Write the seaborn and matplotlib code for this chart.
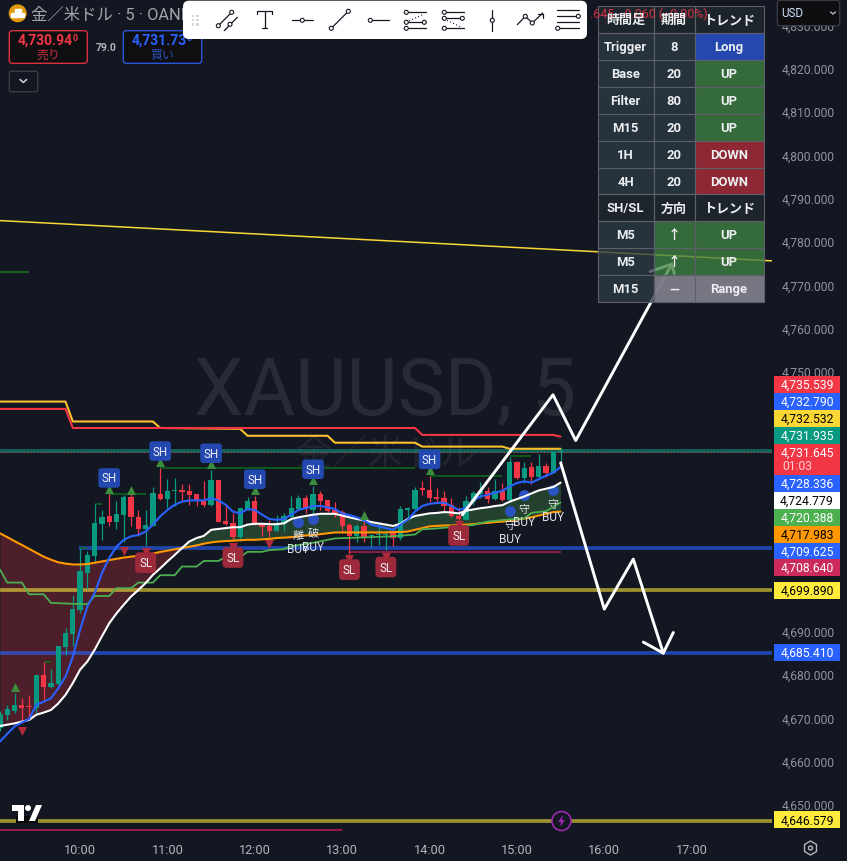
import numpy as np
import pandas as pd
import matplotlib
matplotlib.use("Agg")
import matplotlib.pyplot as plt
import seaborn as sns
from matplotlib.patches import Rectangle, FancyBboxPatch, Circle, Polygon
from matplotlib.transforms import ScaledTranslation

BG = "#131722"
UP_COL = "#089981"
DOWN_COL = "#f23645"

# candles, 5 minute bars from 09:05 to 15:30
opens = [4667.8,4670.8,4671.7,4673.1,4672.6,4672.3,4680.0,4677.2,4677.9,4686.4,4689.5,4695.0,4703.6,4707.5,4714.9,4716.7,
         4715.3,4717.0,4721.0,4716.4,4713.7,4714.4,4721.8,4720.7,4722.5,4722.7,4722.5,4721.8,4720.4,4719.3,4725.0,4715.6,
         4715.1,4711.8,4718.3,4720.2,4715.0,4714.4,4713.3,4714.9,4716.4,4718.3,4720.8,4718.1,4721.8,4720.4,4718.1,4717.7,
         4714.7,4712.1,4714.4,4712.0,4712.3,4712.3,4712.7,4711.5,4718.0,4718.4,4723.0,4722.7,4721.0,4720.8,4719.3,4716.7,
         4715.8,4720.0,4721.7,4722.5,4720.7,4722.5,4720.3,4729.1,4725.4,4728.1,4725.6,4728.3,4726.7,4731.4]
highs = [4671.7,4673.1,4675.8,4674.6,4675.4,4680.0,4682.9,4681.3,4686.7,4690.8,4698.5,4709.3,4708.5,4719.5,4718.1,4721.7,
         4720.2,4721.6,4722.0,4718.1,4718.1,4723.5,4727.7,4725.2,4725.4,4724.1,4724.1,4721.8,4724.7,4727.4,4725.0,4719.3,
         4717.5,4718.6,4721.0,4721.4,4715.0,4715.7,4717.0,4717.4,4721.2,4721.6,4721.6,4723.7,4722.4,4720.4,4720.0,4718.1,
         4715.0,4714.9,4717.4,4712.5,4715.4,4713.1,4713.1,4719.0,4718.7,4723.4,4724.7,4726.0,4723.1,4722.5,4720.8,4718.7,
         4721.2,4722.4,4724.5,4723.5,4725.2,4724.4,4730.4,4729.3,4729.2,4729.2,4731.1,4728.9,4731.6,4732.4]
lows = [4667.1,4669.6,4671.1,4668.8,4669.8,4671.1,4674.2,4676.9,4677.7,4684.6,4686.6,4694.2,4699.8,4706.0,4711.2,4714.3,
        4713.7,4710.8,4714.3,4712.0,4709.8,4714.3,4720.4,4718.5,4719.0,4720.3,4719.3,4719.0,4718.7,4719.0,4715.2,4714.7,
        4711.0,4711.0,4718.1,4714.6,4712.1,4711.8,4713.2,4713.3,4715.8,4718.1,4717.4,4717.0,4718.1,4717.6,4716.4,4712.7,
        4708.0,4710.8,4710.6,4709.5,4710.0,4708.9,4709.7,4711.2,4715.7,4718.1,4721.6,4720.0,4719.7,4717.7,4716.4,4714.3,
        4715.7,4719.3,4720.8,4719.8,4720.4,4720.1,4720.0,4725.2,4724.3,4724.0,4725.4,4725.7,4726.6,4728.9]
closes = [4671.0,4672.2,4673.1,4672.4,4672.5,4680.0,4677.3,4678.1,4686.7,4689.6,4695.2,4704.0,4707.7,4715.1,4716.4,4715.3,
          4717.2,4721.0,4716.4,4713.8,4714.7,4722.0,4720.7,4722.5,4722.7,4722.3,4721.6,4720.1,4719.3,4725.0,4715.3,4714.9,
          4711.8,4718.6,4720.2,4714.7,4714.2,4713.3,4715.0,4716.7,4718.5,4720.8,4718.3,4721.8,4720.2,4717.8,4717.4,4714.4,
          4712.1,4714.4,4711.6,4712.1,4712.6,4712.6,4711.5,4718.4,4718.5,4722.7,4722.8,4720.8,4720.7,4719.0,4716.6,4715.9,
          4720.2,4722.0,4722.5,4720.7,4722.5,4720.3,4729.1,4725.4,4727.8,4725.6,4728.3,4726.7,4731.4,4731.4]

# moving averages, one value per candle
trigger_ma = [4664.6,4666.4,4668.1,4669.0,4669.8,4673.1,4673.8,4674.6,4676.9,4679.6,4684.2,4690.4,4695.8,4698.9,4703.5,4707.0,
              4709.6,4711.2,4712.0,4712.3,4713.1,4714.7,4716.6,4718.1,4719.3,4720.0,4720.3,4720.3,4720.3,4720.8,4720.3,4719.3,
              4717.7,4717.3,4718.3,4718.1,4717.0,4716.0,4715.8,4716.0,4717.0,4718.1,4718.5,4719.0,4719.0,4718.7,4718.3,4717.3,
              4716.9,4716.4,4715.7,4714.7,4714.3,4713.9,4713.5,4714.7,4715.8,4717.7,4719.0,4719.5,4719.7,4719.8,4719.0,4718.1,
              4718.5,4720.3,4721.2,4721.6,4722.1,4722.5,4723.5,4724.3,4724.7,4724.4,4725.2,4726.0,4726.7,4728.0]
base_ma = [4668.2,4668.5,4668.8,4669.2,4669.6,4670.8,4671.3,4671.9,4673.4,4675.4,4678.1,4681.2,4683.1,4685.8,4688.9,4691.9,
           4694.2,4696.2,4698.1,4699.6,4701.2,4703.1,4704.6,4706.2,4707.7,4709.3,4710.8,4711.6,4712.1,4713.5,4713.7,4713.9,
           4714.1,4714.1,4714.7,4714.9,4714.9,4714.8,4714.8,4715.0,4716.0,4716.4,4716.7,4717.0,4717.2,4717.2,4717.2,4716.8,
           4716.4,4716.0,4715.7,4715.3,4715.0,4714.7,4714.4,4714.9,4716.0,4716.7,4717.0,4717.3,4717.4,4717.6,4717.5,4717.3,
           4717.9,4718.2,4718.5,4718.7,4719.0,4719.2,4720.0,4720.6,4721.2,4721.9,4722.6,4723.0,4723.4,4724.4]
filter_ma = [4712.7,4711.8,4710.9,4710.0,4709.1,4708.2,4707.3,4706.6,4706.0,4705.7,4705.5,4705.5,4705.6,4705.9,4706.2,4706.5,
             4706.8,4707.1,4707.3,4707.5,4707.7,4708.0,4708.4,4708.7,4709.0,4709.3,4709.6,4709.9,4710.3,4710.6,4710.8,4710.9,
             4711.0,4711.1,4711.2,4711.2,4711.3,4711.4,4711.6,4711.7,4711.8,4712.0,4712.2,4712.3,4712.5,4712.7,4712.9,4712.9,
             4712.9,4712.9,4712.9,4712.9,4712.9,4712.9,4713.0,4713.0,4713.1,4713.5,4713.9,4714.3,4714.4,4714.5,4714.5,4714.6,
             4714.7,4714.8,4715.0,4715.1,4715.3,4715.4,4715.6,4715.9,4716.1,4716.4,4716.8,4717.2,4717.6,4717.7]

# higher timeframe lines, stepped
m15_x = [0,1,3,4,6,7,10,12,13,15,16,18,19,21,22,24,25,27,28,30,31,33,34,36,37,39,40,43,46,51,54,57,58,60,65,67,70,72,73,75,77]
m15_y = [4704.6,4701.6,4701.6,4698.9,4698.9,4696.9,4696.7,4696.6,4698.5,4698.5,4700.3,4700.3,4701.6,4701.6,4703.3,4703.3,4705.3,
         4705.3,4706.6,4706.6,4707.5,4707.5,4708.7,4708.7,4709.1,4709.3,4710.0,4710.8,4711.8,4712.1,4712.3,4712.7,4713.9,4714.1,
         4714.9,4715.7,4716.2,4716.4,4717.7,4718.1,4720.1]
h4_x = [0,9,10,21,22,33,34,45,46,57,58,69,70,77]
h4_y = [4743.4,4743.4,4738.8,4738.8,4737.3,4737.1,4735.5,4735.5,4733.9,4733.9,4733.0,4733.0,4732.5,4732.5]
h1_x = [0,9,10,57,58,76,77]
h1_y = [4741.7,4741.7,4737.3,4737.3,4735.7,4735.7,4735.3]

# horizontal levels
trend_x = [0,106]
trend_y = [4785.2,4775.9]
level_teal = 4731.935
last_price = 4731.645
level_blue1 = 4709.625
level_blue2 = 4685.41
level_olive1 = 4699.89
level_olive2 = 4646.579
level_crimson = 4708.64
low_line_y = 4644.4
stub_y = 4773.3

# swing lines (from, to, price)
swing_from = [6,11,13,15,22,59,70]
swing_to = [7,12,14,20,57,69,73]
swing_y = [4683.2,4709.5,4719.8,4722.0,4728.1,4726.3,4730.8]

# markers
sh_idx = [15,22,29,35,43,59]
sh_y = [4723.2,4729.4,4728.9,4722.9,4725.2,4727.5]
sl_idx = [20,32,48,53,63]
sl_y = [4708.6,4709.8,4707.0,4707.6,4714.9]
up_idx = [2,18,50]
up_y = [4677.4,4723.0,4717.2]
dn_idx = [3,17,37]
dn_y = [4667.4,4709.0,4710.5]
buy_idx = [41,43,70,72,76]
buy_y = [4715.7,4716.3,4718.1,4721.9,4723.0]
buy_kanji = ["離","破","守","守","守"]

# hand drawn arrows
up_arrow_x = [63.5,75.96,79.08,92.27]
up_arrow_y = [4717.25,4744.97,4734.41,4775.15]
up_head_x = [89.29,92.27,92.72]
up_head_y = [4773.44,4775.15,4772.29]
dn_arrow_x = [77.02,83.01,86.99,91.11]
dn_arrow_y = [4729.26,4695.47,4707.02,4685.31]
dn_head_x = [88.37,91.11,92.49]
dn_head_y = [4687.85,4685.31,4690.07]

hour_labels = ["10:00","11:00","12:00","13:00","14:00","15:00","16:00","17:00"]
hour_idx = [11,23,35,47,59,71,83,95]
# 4700 to 4740 sit behind the tags, so they get no label
price_ticks = [4650,4660,4670,4680,4690,4750,4760,4770,4780,4790,4800,4810,4820,4830]

# right hand tags: text, row y, fill, text colour
tag_text = ["4,735.539","4,732.790","4,732.532","4,731.935","4,731.645","4,728.336","4,724.779","4,720.388",
            "4,717.983","4,709.625","4,708.640","4,699.890","4,685.410","4,646.579"]
tag_row = [385,402,419,436,453,484,501,518,535,552,568,591,653,821]
tag_fill = ["#f23645","#2962ff","#fdd835","#089981","#f23645","#2962ff","#ffffff","#4caf50",
            "#ff9800","#2962ff","#cc2a5c","#ffeb3b","#2962ff","#ffeb3b"]
tag_ink = ["white","white","black","white","white","white","black","white",
           "black","white","white","black","white","black"]

# trend table
table_rows = [["時間足","期間","トレンド"],["Trigger","8","Long"],["Base","20","UP"],["Filter","80","UP"],
              ["M15","20","UP"],["1H","20","DOWN"],["4H","20","DOWN"],["SH/SL","方向","トレンド"],
              ["M5","↑","UP"],["M5","↑","UP"],["M15","—","Range"]]
cell_fills = {"UP":"#3f8243","↑":"#3f8243","Long":"#2a56d8","DOWN":"#b02e3a","Range":"#7a7b86","—":"#7a7b86"}

sns.set_theme(style="dark", rc={"axes.facecolor":BG,"figure.facecolor":BG,"axes.grid":False})
plt.rcParams["font.family"] = ["Roboto","Noto Sans CJK JP","DejaVu Sans"]

READ_OFFSET = 0.28  # candle and ma readings sit about 1px high against the scale
candles = pd.DataFrame({"open":opens,"high":highs,"low":lows,"close":closes}) + READ_OFFSET
candles["idx"] = np.arange(len(candles))
candles["up"] = candles["close"] >= candles["open"]
mas = pd.DataFrame({"trigger":trigger_ma,"base":base_ma,"filter":filter_ma}) + READ_OFFSET
mas["idx"] = candles["idx"]

fig = plt.figure(figsize=(8.47,8.62), dpi=100)
ax = fig.add_axes([0,22/862,772/847,840/862])
ax.set_xlim(0,772/7.28)
ax.set_ylim(4650+(807-840)/4.33,4650+807/4.33)
for s in ax.spines.values():
    s.set_visible(False)

ov = fig.add_axes([0,0,1,1],zorder=5)
ov.set_xlim(0,847)
ov.set_ylim(862,0)
ov.axis("off")
ov.patch.set_alpha(0)

# watermark
ax.text(385,392,"XAUUSD, 5",transform=ov.transData,ha="center",va="center",fontsize=57,color="#272b36",zorder=0.5)
ax.text(386,455,"金／米ドル",transform=ov.transData,ha="center",va="center",fontsize=26,color="#21252f",zorder=0.5)

# cloud between base and filter
ax.fill_between(mas["idx"],mas["base"],mas["filter"],where=mas["filter"]>=mas["base"],interpolate=True,
                color="#4d1f2b",lw=0,zorder=1)
ax.fill_between(mas["idx"],mas["base"],mas["filter"],where=mas["filter"]<mas["base"],interpolate=True,
                color="#24402f",lw=0,zorder=1)

# levels
thick = 2.7
ax.axhline(level_teal,color="#089981",alpha=.6,lw=thick,zorder=2)
ax.axhline(last_price,color=DOWN_COL,lw=.8,ls=(0,(1,2)),zorder=2.1)
ax.hlines(level_blue1,10.8,106.1,color="#2962ff",alpha=.62,lw=thick,zorder=2)
ax.axhline(level_blue2,color="#2962ff",alpha=.62,lw=thick,zorder=2)
ax.axhline(level_olive1,color="#ffeb3b",alpha=.58,lw=thick,zorder=2)
ax.axhline(level_olive2,color="#ffeb3b",alpha=.58,lw=thick,zorder=2)
ax.hlines(level_crimson,48,77,color="#8a1f48",lw=1.4,zorder=2)
ax.hlines(low_line_y,0,47,color="#c2185b",lw=1.1,zorder=2)
ax.hlines(stub_y,0,4,color="#1a7a1a",lw=1.1,zorder=2)
ax.hlines(swing_y,swing_from,swing_to,color="#0d6b1a",lw=1.1,zorder=2)

# higher timeframe and trend lines
sns.lineplot(x=trend_x,y=trend_y,ax=ax,color="#f7d83a",lw=1.1,zorder=2.2,errorbar=None)
sns.lineplot(x=h4_x,y=h4_y,ax=ax,color="#fbc02d",lw=1.5,zorder=2.2,errorbar=None)
sns.lineplot(x=h1_x,y=h1_y,ax=ax,color="#f23645",lw=1.5,zorder=2.3,errorbar=None)

# candles
ax.vlines(candles["idx"],candles["low"],candles["high"],
          colors=[UP_COL if u else DOWN_COL for u in candles["up"]],lw=.9,zorder=3)
body = (candles["close"]-candles["open"]).abs().clip(lower=.25)
ax.bar(candles["idx"],body,width=.72,bottom=candles[["open","close"]].min(axis=1),
       color=[UP_COL if u else DOWN_COL for u in candles["up"]],lw=0,zorder=3.1)

# moving averages
sns.lineplot(data=mas,x="idx",y="filter",ax=ax,color="#ff9800",lw=1.5,zorder=3.4,errorbar=None)
sns.lineplot(x=m15_x,y=m15_y,ax=ax,color="#4caf50",lw=1.3,zorder=3.5,errorbar=None)
sns.lineplot(data=mas,x="idx",y="base",ax=ax,color="white",lw=1.5,zorder=3.6,errorbar=None)
sns.lineplot(data=mas,x="idx",y="trigger",ax=ax,color="#2962ff",lw=1.5,zorder=3.7,errorbar=None)

# markers
ax.scatter(sh_idx,sh_y,marker="^",s=42,color="#3d8b3d",lw=0,zorder=4)
ax.scatter(up_idx,up_y,marker="^",s=42,color="#3d8b3d",lw=0,zorder=4)
ax.scatter(sl_idx,sl_y,marker="v",s=42,color="#b02a3c",lw=0,zorder=4)
ax.scatter(dn_idx,dn_y,marker="v",s=42,color="#b02a3c",lw=0,zorder=4)
ax.scatter(buy_idx,buy_y,marker="o",s=62,color="#2a52c0",lw=0,zorder=3.3)
for i,p in zip(sh_idx,sh_y):
    ax.annotate("SH",(i,p),xytext=(0,8),textcoords="offset points",ha="center",va="center",color="#eef1f8",
                fontsize=8.4,zorder=4.5,bbox=dict(boxstyle="round,pad=0.28",fc="#2348b0",ec="none"))
for i,p in zip(sl_idx,sl_y):
    ax.annotate("SL",(i,p),xytext=(0,-7.5),textcoords="offset points",ha="center",va="center",color="#eef1f8",
                fontsize=8.4,zorder=4.5,bbox=dict(boxstyle="round,pad=0.33",fc="#9c2a3a",ec="none"))
for i,p,k in zip(buy_idx,buy_y,buy_kanji):
    ax.annotate(k,(i,p),xytext=(0,-10),textcoords="offset points",ha="center",va="center",color="#dfe2e8",fontsize=8,zorder=4.6)
    ax.annotate("BUY",(i,p),xytext=(0,-19.5),textcoords="offset points",ha="center",va="center",color="#dfe2e8",fontsize=8.6,zorder=4.6)

# white arrows
for ax_x,ax_y in [(up_arrow_x,up_arrow_y),(up_head_x,up_head_y),(dn_arrow_x,dn_arrow_y),(dn_head_x,dn_head_y)]:
    sns.lineplot(x=ax_x,y=ax_y,ax=ax,color="white",lw=2.1,zorder=4.8,errorbar=None,sort=False)

ax.set_xlabel("")
ax.set_ylabel("")
ax.set_xticks(hour_idx)
ax.set_xticklabels(hour_labels,color="#b2b5be",fontsize=9.2)
ax.yaxis.tick_right()
ax.set_yticks(price_ticks)
ax.set_yticklabels([f"{p:,.3f}" for p in price_ticks],color="#8f939e",fontsize=8.7)
ax.tick_params(axis="x",length=0,pad=3)
ax.tick_params(axis="y",length=0,pad=7)
for lab in ax.get_yticklabels():
    lab.set_transform(lab.get_transform()+ScaledTranslation(0,2/100,fig.dpi_scale_trans))

# price tags
for text,row,fill,ink in zip(tag_text,tag_row,tag_fill,tag_ink):
    hgt = 31 if text == "4,731.645" else 17
    ov.add_patch(Rectangle((774,row-8.5),66,hgt,fc=fill,ec="none",zorder=6))
    ov.text(807,row,text,ha="center",va="center",color=ink,fontsize=8.7,zorder=7)
ov.text(782,467,"01:03",ha="left",va="center",color="#fbd0d4",fontsize=8.7,zorder=7)

# table
col_x = [597.5,653.5,694.5,763.5]
row_h = 26.97
for r,row in enumerate(table_rows):
    dark = r in (0,7)
    for c,val in enumerate(row):
        y0 = 6.7+r*row_h
        fill = cell_fills.get(val,"#20282f" if dark else "#2c3a44")
        if val in ("Range","—"):
            al = .97
        else:
            al = .78
        ov.add_patch(Rectangle((col_x[c],y0),col_x[c+1]-col_x[c],row_h,fc=fill,alpha=al,ec="none",zorder=6))
        ov.add_patch(Rectangle((col_x[c],y0),col_x[c+1]-col_x[c],row_h,fc="none",ec="#5d606b",lw=.8,zorder=6.2))
        ov.text((col_x[c]+col_x[c+1])/2,y0+row_h/2,val,ha="center",va="center",color="#eceef1",
                fontsize=9.4,fontweight="bold",zorder=7)
ov.text(590,14,".645 −0.060 (−0.00%)",ha="left",va="center",color="#f23645",alpha=.85,fontsize=8.9,zorder=6.5)

# title and buttons
ov.add_patch(Circle((17.7,14.3),9,fc="#e09b0d",ec="none",zorder=6))
ov.add_patch(Rectangle((14.5,9.5),6,3.5,fc="white",zorder=6.1))
ov.add_patch(Rectangle((11,14),5.5,3.5,fc="white",zorder=6.1))
ov.add_patch(Rectangle((18,14),5.5,3.5,fc="white",zorder=6.1))
ov.text(31,15,"金／米ドル · 5 · OANDA",ha="left",va="center",color="#a3a6af",fontsize=11.8,zorder=6)

def button(x0,x1,edge,price,small,label,ink,label_ink):
    ov.add_patch(FancyBboxPatch((x0+3,34.7),x1-x0-6,26.6,boxstyle="round,pad=3",fc="#0f0f12",ec=edge,lw=1,zorder=6))
    ov.text((x0+x1)/2-3,40.7,price,ha="center",va="center",color=ink,fontsize=10,fontweight="bold",zorder=7)
    ov.text((x0+x1)/2+24,38.5,small,ha="left",va="center",color=ink,fontsize=6.5,fontweight="bold",zorder=7)
    ov.text((x0+x1)/2,55,label,ha="center",va="center",color=label_ink,fontsize=8.6,zorder=7)

button(9.3,87.3,"#d8303f","4,730.94","0","売り","#f23645","#c9303e")
button(123.3,201.7,"#2a56d8","4,731.73","0","買い","#2962ff","#2a52be")
ov.text(105.7,47.7,"79.0",ha="center",va="center",color="#b2b5be",fontsize=7.6,fontweight="bold",zorder=7)
ov.add_patch(FancyBboxPatch((11.3,74.3),24.4,16.4,boxstyle="round,pad=2",fc=BG,ec="#3a3d45",lw=1,zorder=6))
ov.plot([20,23.3,26.6],[80.5,83.5,80.5],color="#d1d4dc",lw=1.1,zorder=7)

ov.add_patch(FancyBboxPatch((780,4),57,20,boxstyle="round,pad=2.7",fc="#0e0e10",ec="#363a45",lw=1,zorder=8))
ov.text(781,13.5,"USD",ha="left",va="center",color="#cfe3ff",fontsize=8.4,zorder=9)
ov.plot([830.5,833,835.5],[13,15,13],color="#b2b5be",lw=1,zorder=9)

# drawing toolbar, coordinates in px
ov.add_patch(FancyBboxPatch((189,7.7),392,26.3,boxstyle="round,pad=6",fc="white",ec="none",zorder=8))
for gx in (192.7,197.3):
    for gy in (16.7,21,25.3):
        ov.add_patch(Rectangle((gx-1.2,gy-1.2),2.4,2.4,fc="#d4d4d4",ec="none",zorder=9))
tool_lines = [[(38.3,26.7),(51.7,13.3)],[(44.3,31.7),(57.3,18.3)],
              [(77.3,14.7),(77.3,12.3),(92,12.3),(92,14.7)],[(84.7,12.3),(84.7,29.3)],[(82,29.3),(87.3,29.3)],
              [(112.3,21.3),(132.7,21.3)],[(151.3,29.3),(168.3,12.3)],[(190.3,21.3),(209,21.3)],
              [(226.3,13.3),(245.7,13.3)],[(226.3,23.3),(244.3,23.3)],[(226.3,29.3),(245.7,29.3)],
              [(264.3,13.3),(283.7,13.3)],[(264.3,19.3),(282.3,19.3)],[(264.3,29.3),(283.7,29.3)],
              [(312.3,11),(312.3,31.7)],[(337.3,25.7),(345.3,17.3),(352.3,24),(362.7,14)],[(358.3,14.7),(362.7,14.7),(362.7,19)],
              [(377,11.3),(399,11.3)],[(377,17.3),(399,17.3)],[(377,23.3),(399,23.3)],[(377,29.3),(399,29.3)]]
tool_dots = [(38.3,26.7),(51.7,13.3),(50,25.3),(122.3,21.3),(151.3,29.3),(168.3,12.3),(190.3,21.3),
             (226.3,13.3),(244.3,23.3),(226.3,23.3),(226.3,29.3),(264.3,13.3),(264.3,19.3),(282.3,19.3),(264.3,29.3),
             (312.3,21.3),(345.3,17.3),(352.3,24),(398.3,17.3),(377.7,29.3)]
for seg in tool_lines:
    xs,ys = zip(*seg)
    ov.plot([x+180 for x in xs],ys,color="#131722",lw=.9,zorder=9)
for dx,dy in tool_dots:
    ov.add_patch(Circle((dx+180,dy),2,fc="white",ec="#131722",lw=.8,zorder=9.1))
ov.plot([406,424],[23.3,15],color="#131722",lw=.8,ls=(0,(1,2)),zorder=9)
ov.plot([444,462],[20,28.5],color="#131722",lw=.8,ls=(0,(1,2)),zorder=9)

# tradingview logo, lightning, settings
ov.add_patch(Rectangle((16,817),22,7,fc="#0a0a0a",ec="none",zorder=6))
ov.add_patch(Polygon([(12,806),(24,806),(24,822),(18,822),(18,812),(12,812)],fc="white",ec="none",zorder=6.5))
ov.add_patch(Circle((28,809),3,fc="white",ec="none",zorder=6.5))
ov.add_patch(Polygon([(29,822),(36,806),(42,806),(35,822)],fc="white",ec="none",zorder=6.5))
ov.add_patch(Circle((561.5,822),9.5,fc=BG,ec="#9c27b0",lw=1.2,zorder=6))
ov.add_patch(Polygon([(563,816),(558,823),(561,823),(560,828),(565,821),(562,821)],fc="#9c27b0",ec="none",zorder=6.5))
ov.add_patch(Polygon([(810.5,842),(816.5,845.5),(816.5,852.5),(810.5,856),(804.5,852.5),(804.5,845.5)],fc="none",ec="#b2b5be",lw=1,zorder=6))
ov.add_patch(Circle((810.5,849),2,fc="none",ec="#b2b5be",lw=1,zorder=6))

fig.savefig("out.png",dpi=100,facecolor=BG)
